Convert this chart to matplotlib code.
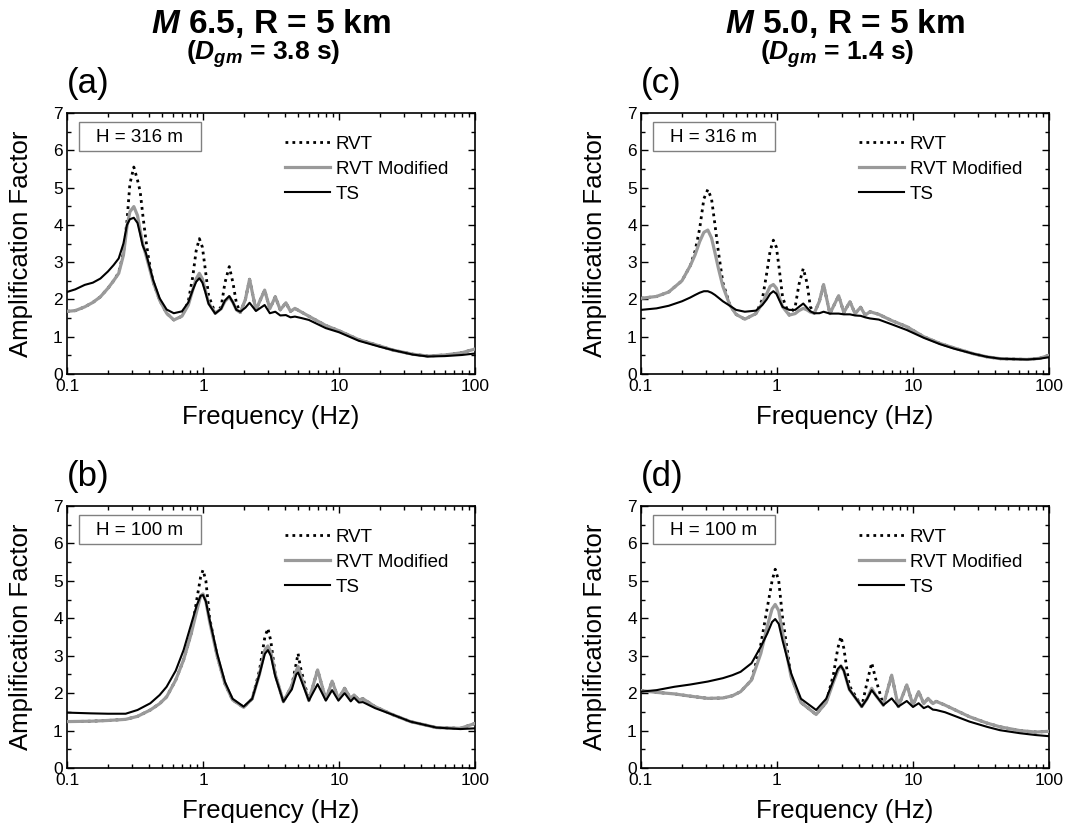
import matplotlib
matplotlib.use('Agg')
import matplotlib.pyplot as plt
from matplotlib.patches import Rectangle
from matplotlib.ticker import FixedLocator, FuncFormatter, MultipleLocator, LogLocator, NullFormatter

# ---------------- data ----------------
# Panel (a): M 6.5, H = 316 m
freq_a = [0.100, 0.115, 0.135, 0.155, 0.176, 0.20, 0.22, 0.24, 0.26, 0.276, 0.29, 0.31,
          0.33, 0.345, 0.36, 0.38, 0.40, 0.43, 0.48, 0.54, 0.61, 0.70, 0.78, 0.84, 0.89,
          0.94, 0.99, 1.04, 1.10, 1.23, 1.36, 1.45, 1.56, 1.66, 1.76, 1.88, 2.05, 2.20,
          2.45, 2.84, 3.10, 3.40, 3.70, 4.07, 4.40, 4.74, 5.30, 6.0, 8.0, 10, 14, 20, 25,
          35, 45, 60, 80, 100]
rvt_a = [1.68, 1.70, 1.80, 1.92, 2.07, 2.30, 2.50, 2.72, 3.25, 4.10, 5.10, 5.55,
         5.20, 4.90, 4.30, 3.60, 3.05, 2.47, 1.98, 1.63, 1.45, 1.55, 1.95, 2.60, 3.30,
         3.63, 3.40, 2.80, 2.10, 1.63, 1.80, 2.45, 2.88, 2.45, 1.90, 1.65, 2.00, 2.54,
         1.72, 2.25, 1.75, 2.07, 1.72, 1.91, 1.68, 1.76, 1.66, 1.55, 1.30, 1.16, 0.92,
         0.75, 0.64, 0.53, 0.48, 0.51, 0.57, 0.67]
mod_a = [1.68, 1.70, 1.80, 1.92, 2.07, 2.30, 2.50, 2.70, 3.19, 3.95, 4.35, 4.49,
         4.25, 3.85, 3.50, 3.20, 2.90, 2.47, 1.98, 1.63, 1.45, 1.55, 1.85, 2.25, 2.55,
         2.70, 2.55, 2.25, 1.90, 1.63, 1.75, 1.95, 2.07, 1.92, 1.72, 1.65, 2.00, 2.54,
         1.72, 2.25, 1.75, 2.07, 1.72, 1.91, 1.68, 1.76, 1.66, 1.55, 1.30, 1.16, 0.92,
         0.75, 0.64, 0.53, 0.48, 0.51, 0.57, 0.67]
ts_a = [2.20, 2.27, 2.39, 2.45, 2.56, 2.75, 2.92, 3.10, 3.50, 4.00, 4.15, 4.19,
        4.05, 3.75, 3.45, 3.25, 2.95, 2.52, 2.03, 1.73, 1.63, 1.68, 1.92, 2.25, 2.47,
        2.57, 2.45, 2.20, 1.88, 1.62, 1.75, 1.97, 2.09, 1.92, 1.72, 1.67, 1.78, 1.91,
        1.69, 1.85, 1.63, 1.67, 1.57, 1.58, 1.52, 1.54, 1.50, 1.45, 1.23, 1.12, 0.89,
        0.73, 0.64, 0.52, 0.47, 0.48, 0.51, 0.55]

# Panel (b): M 6.5, H = 100 m
freq_b = [0.10, 0.15, 0.20, 0.27, 0.33, 0.41, 0.48, 0.54, 0.63, 0.72, 0.82, 0.90, 0.96,
          1.00, 1.05, 1.12, 1.27, 1.45, 1.65, 1.99, 2.30, 2.60, 2.85, 3.00, 3.15, 3.40,
          3.90, 4.50, 4.85, 5.00, 5.20, 6.00, 6.96, 8.00, 8.90, 9.90, 11.0, 12.2, 12.9,
          14.0, 15.0, 18.4, 25, 33.5, 52, 78, 100]
rvt_b = [1.24, 1.25, 1.27, 1.30, 1.38, 1.55, 1.72, 1.90, 2.35, 2.89, 3.60, 4.50, 5.10,
         5.29, 5.00, 4.00, 3.00, 2.25, 1.82, 1.62, 1.85, 2.60, 3.50, 3.73, 3.40, 2.50,
         1.77, 2.20, 2.80, 3.06, 2.70, 1.80, 2.62, 1.83, 2.32, 1.85, 2.13, 1.85, 1.95,
         1.82, 1.85, 1.64, 1.42, 1.24, 1.08, 1.06, 1.19]
mod_b = [1.24, 1.25, 1.27, 1.30, 1.38, 1.55, 1.72, 1.90, 2.35, 2.89, 3.60, 4.20, 4.60,
         4.65, 4.45, 3.90, 3.00, 2.25, 1.82, 1.62, 1.85, 2.50, 3.15, 3.26, 3.10, 2.50,
         1.77, 2.20, 2.60, 2.71, 2.50, 1.80, 2.62, 1.83, 2.32, 1.85, 2.13, 1.85, 1.95,
         1.82, 1.85, 1.64, 1.42, 1.24, 1.08, 1.06, 1.19]
ts_b = [1.48, 1.46, 1.45, 1.45, 1.55, 1.73, 1.95, 2.17, 2.60, 3.15, 3.85, 4.35, 4.60,
        4.62, 4.45, 3.95, 3.06, 2.30, 1.85, 1.64, 1.85, 2.50, 3.05, 3.15, 3.00, 2.45,
        1.77, 2.10, 2.50, 2.55, 2.40, 1.80, 2.24, 1.80, 2.08, 1.80, 2.00, 1.78, 1.88,
        1.75, 1.76, 1.60, 1.42, 1.24, 1.08, 1.04, 1.06]

# Panel (c): M 5.0, H = 316 m
freq_c = [0.100, 0.13, 0.16, 0.20, 0.23, 0.25, 0.27, 0.29, 0.31, 0.33, 0.35, 0.37, 0.40,
          0.45, 0.50, 0.58, 0.70, 0.78, 0.84, 0.89, 0.94, 0.99, 1.04, 1.10, 1.23, 1.36,
          1.45, 1.56, 1.66, 1.76, 1.88, 2.05, 2.20, 2.45, 2.84, 3.10, 3.44, 3.75, 4.12,
          4.45, 4.83, 5.6, 7.0, 9.0, 12, 15.8, 20, 28, 35, 44, 69, 85, 100]
rvt_c = [2.03, 2.08, 2.20, 2.50, 2.90, 3.30, 3.90, 4.70, 4.95, 4.70, 4.00, 3.30, 2.45,
         1.85, 1.60, 1.47, 1.62, 2.00, 2.70, 3.30, 3.59, 3.40, 2.80, 2.05, 1.58, 1.80,
         2.40, 2.83, 2.45, 1.80, 1.63, 1.95, 2.40, 1.62, 2.10, 1.65, 1.94, 1.62, 1.79,
         1.58, 1.67, 1.60, 1.43, 1.27, 1.00, 0.82, 0.70, 0.54, 0.46, 0.41, 0.39, 0.42, 0.50]
mod_c = [2.03, 2.08, 2.20, 2.50, 2.90, 3.20, 3.55, 3.80, 3.86, 3.65, 3.25, 2.85, 2.35,
         1.85, 1.60, 1.47, 1.62, 1.90, 2.15, 2.35, 2.40, 2.30, 2.05, 1.80, 1.58, 1.62,
         1.70, 1.76, 1.72, 1.66, 1.63, 1.95, 2.40, 1.62, 2.10, 1.65, 1.94, 1.62, 1.79,
         1.58, 1.67, 1.60, 1.43, 1.27, 1.00, 0.82, 0.70, 0.54, 0.46, 0.41, 0.39, 0.42, 0.50]
ts_c = [1.72, 1.76, 1.83, 1.95, 2.05, 2.12, 2.18, 2.22, 2.22, 2.18, 2.12, 2.05, 1.95,
        1.83, 1.72, 1.67, 1.70, 1.85, 2.00, 2.15, 2.22, 2.15, 1.98, 1.80, 1.72, 1.72,
        1.80, 1.89, 1.78, 1.68, 1.63, 1.63, 1.67, 1.62, 1.62, 1.60, 1.60, 1.57, 1.56,
        1.52, 1.49, 1.46, 1.33, 1.18, 0.97, 0.80, 0.68, 0.54, 0.46, 0.41, 0.39, 0.41, 0.45]

# Panel (d): M 5.0, H = 100 m
freq_d = [0.10, 0.13, 0.176, 0.23, 0.31, 0.40, 0.47, 0.54, 0.65, 0.76, 0.85, 0.92, 0.97,
          1.03, 1.10, 1.27, 1.50, 1.94, 2.30, 2.60, 2.80, 2.95, 3.10, 3.40, 4.20, 4.60,
          4.97, 5.30, 6.05, 6.97, 7.80, 9.00, 10.0, 11.0, 12.0, 12.9, 14.0, 14.8, 17.2,
          26, 35, 43.6, 61, 80, 100]
rvt_d = [2.07, 2.02, 1.98, 1.92, 1.86, 1.87, 1.93, 2.04, 2.35, 3.30, 4.30, 5.00, 5.31,
         5.00, 4.00, 2.45, 1.75, 1.43, 1.75, 2.50, 3.20, 3.51, 3.20, 2.20, 1.64, 2.30,
         2.81, 2.40, 1.68, 2.48, 1.64, 2.22, 1.68, 2.04, 1.72, 1.86, 1.72, 1.78, 1.68,
         1.37, 1.20, 1.10, 1.00, 0.96, 0.98]
mod_d = [2.07, 2.02, 1.98, 1.92, 1.86, 1.87, 1.93, 2.04, 2.35, 3.06, 3.80, 4.25, 4.37,
         4.20, 3.60, 2.44, 1.75, 1.43, 1.75, 2.30, 2.60, 2.73, 2.60, 2.10, 1.64, 1.85,
         2.13, 1.95, 1.68, 2.48, 1.64, 2.22, 1.68, 2.04, 1.72, 1.86, 1.72, 1.78, 1.68,
         1.37, 1.20, 1.10, 1.00, 0.96, 0.98]
ts_d = [2.04, 2.08, 2.17, 2.23, 2.31, 2.40, 2.48, 2.57, 2.80, 3.24, 3.60, 3.90, 3.98,
        3.85, 3.40, 2.53, 1.85, 1.55, 1.85, 2.35, 2.65, 2.73, 2.60, 2.10, 1.64, 1.85,
        2.08, 1.95, 1.68, 1.86, 1.64, 1.79, 1.63, 1.73, 1.60, 1.65, 1.56, 1.55, 1.49,
        1.24, 1.10, 1.01, 0.93, 0.88, 0.85]

series_labels = ['RVT', 'RVT Modified', 'TS']
x_ticks = [0.1, 1, 10, 100]
y_ticks = [0, 1, 2, 3, 4, 5, 6, 7]
titles_line1 = [r'$\mathit{M}$ 6.5, R = 5 km', r'$\mathit{M}$ 5.0, R = 5 km']
titles_line2 = [r'($\mathit{D}_{\mathit{gm}}$ = 3.8 s)', r'($\mathit{D}_{\mathit{gm}}$ = 1.4 s)']
depth_labels = ['H = 316 m', 'H = 100 m', 'H = 316 m', 'H = 100 m']

# ---------------- style ----------------
plt.rcParams['font.family'] = ['Liberation Sans', 'DejaVu Sans']
plt.rcParams['mathtext.fontset'] = 'custom'
plt.rcParams['mathtext.it'] = 'Liberation Sans:italic:bold'
plt.rcParams['mathtext.rm'] = 'Liberation Sans:bold'
plt.rcParams['mathtext.bf'] = 'Liberation Sans:bold'

W, H = 1067, 834
fig = plt.figure(figsize=(W / 100, H / 100), dpi=100)

# pixel boxes: left, top, right, bottom
boxes = {
    'a': (67, 113, 475, 374),
    'c': (641, 113, 1049, 374),
    'b': (67, 506, 475, 768),
    'd': (641, 506, 1049, 768),
}
data = {
    'a': (freq_a, rvt_a, mod_a, ts_a),
    'b': (freq_b, rvt_b, mod_b, ts_b),
    'c': (freq_c, rvt_c, mod_c, ts_c),
    'd': (freq_d, rvt_d, mod_d, ts_d),
}
letters = {'a': '(a)', 'b': '(b)', 'c': '(c)', 'd': '(d)'}
hlabels = {'a': depth_labels[0], 'b': depth_labels[1], 'c': depth_labels[2], 'd': depth_labels[3]}

GRAY = '#9a9a9a'

for key in ['a', 'b', 'c', 'd']:
    l, t, r, b = boxes[key]
    ax = fig.add_axes([l / W, 1 - b / H, (r - l) / W, (b - t) / H])
    f, rvt, mod, ts = data[key]
    ax.plot(f, rvt, color='black', lw=2.0, linestyle=(0, (1, 1.5)), label=series_labels[0], zorder=2)
    ax.plot(f, mod, color=GRAY, lw=2.3, label=series_labels[1], zorder=3)
    ax.plot(f, ts, color='black', lw=1.5, label=series_labels[2], zorder=4)

    ax.set_xscale('log')
    ax.set_xlim(0.1, 100)
    ax.set_ylim(0, 7)
    ax.xaxis.set_major_locator(FixedLocator(x_ticks))
    ax.xaxis.set_major_formatter(FuncFormatter(lambda v, p: f'{v:g}'))
    ax.xaxis.set_minor_locator(LogLocator(base=10, subs=range(2, 10)))
    ax.xaxis.set_minor_formatter(NullFormatter())
    ax.yaxis.set_major_locator(FixedLocator(y_ticks))
    ax.yaxis.set_minor_locator(MultipleLocator(0.5))
    ax.tick_params(which='both', direction='in', top=True, right=True, labelsize=12.5, width=1)
    ax.tick_params(which='major', length=5)
    ax.tick_params(axis='x', which='major', pad=3.5)
    ax.tick_params(axis='y', which='major', pad=3.0)
    ax.tick_params(which='minor', length=3)
    for s in ax.spines.values():
        s.set_linewidth(1.2)

    ax.set_xlabel('Frequency (Hz)', fontsize=18.5)
    ax.xaxis.set_label_coords(0.5, -0.12)
    ax.set_ylabel('Amplification Factor', fontsize=18.5)
    ax.yaxis.set_label_coords(-0.083, 0.5)

    ax.legend(loc='upper left', bbox_to_anchor=(0.535, 0.913), frameon=False, fontsize=13.5,
              handlelength=2.4, handletextpad=0.3, labelspacing=0.42, borderpad=0, borderaxespad=0)

    ax.add_patch(Rectangle((0.029, 0.854), 0.299, 0.1115, transform=ax.transAxes, fill=False,
                           edgecolor='#808080', lw=1.0, zorder=5))
    ax.text(0.178, 0.905, hlabels[key], transform=ax.transAxes, ha='center', va='center',
            fontsize=13.5, zorder=6)

    fig.text(l / W, 1 - (t - 20) / H, letters[key], fontsize=25, ha='left', va='baseline')

# column titles
for i, key in enumerate(['a', 'c']):
    l, t, r, b = boxes[key]
    cx = (l + r) / 2 / W
    fig.text(cx, 1 - 23 / H, titles_line1[i], ha='center', va='center', fontsize=24,
             fontweight='bold')
    fig.text(cx - 8 / W, 1 - 54 / H, titles_line2[i], ha='center', va='center', fontsize=19,
             fontweight='bold')

fig.savefig('out.png', dpi=100)
